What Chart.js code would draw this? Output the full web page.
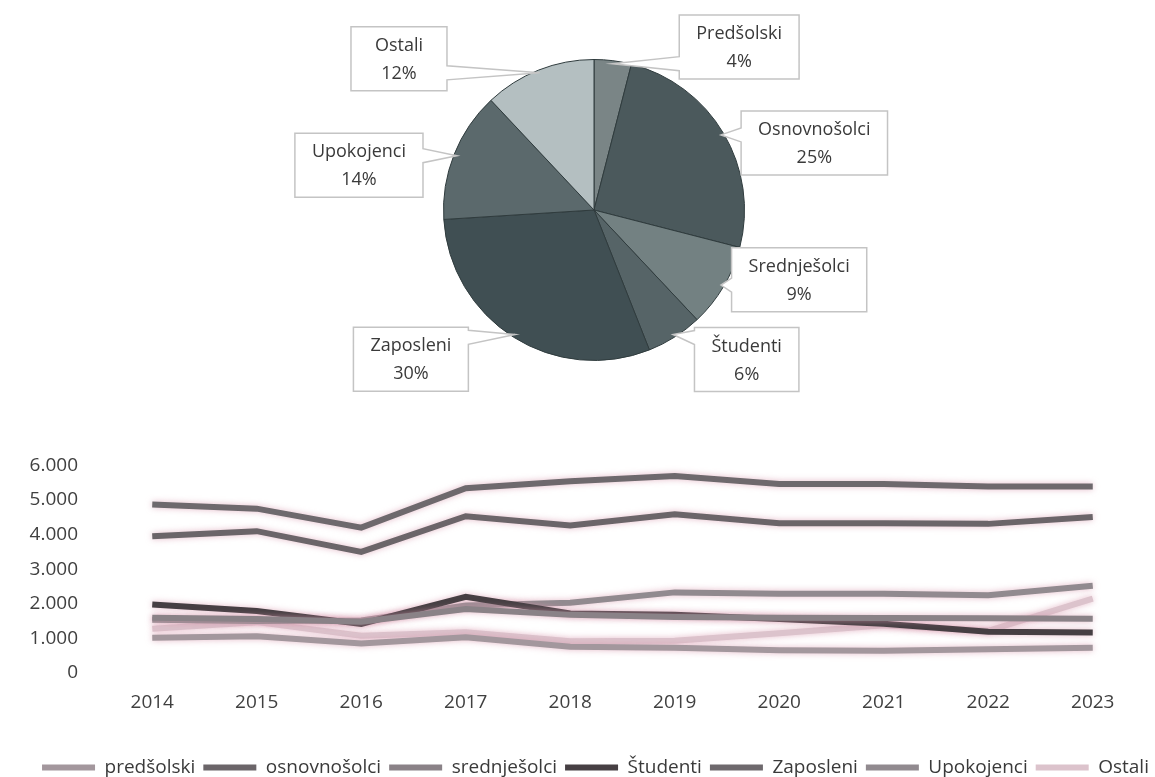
<!DOCTYPE html>
<html>
<head>
<meta charset="utf-8">
<script src="https://cdn.jsdelivr.net/npm/chart.js@4.4.1/dist/chart.umd.min.js"></script>
<style>
html, body { margin: 0; padding: 0; background: #fff; overflow: hidden; }
#wrap { position: relative; width: 1155px; height: 777px; }
#pie { position: absolute; left: 0; top: 0; }
#line { position: absolute; left: 0; top: 440px; }
</style>
</head>
<body>
<div id="wrap">
  <canvas id="pie" width="1155" height="420"></canvas>
  <canvas id="line" width="1155" height="347"></canvas>
</div>
<script>
// pie (share in %, year 2023)
const pie_labels = ["Predšolski", "Osnovnošolci", "Srednješolci", "Študenti", "Zaposleni", "Upokojenci", "Ostali"]
const pie_values = [4, 25, 9, 6, 30, 14, 12]
const pie_colors = ["#7a8586", "#4b595c", "#738182", "#566467", "#404f53", "#5b696c", "#b4bfc1"]

// where the callout boxes sit: angle (deg, clockwise from top) and distance in pie radii
const label_angle = [41.7, 73.1, 108.8, 134.4, 230.8, 280.8, 307.8]
const label_dist = [1.45, 1.53, 1.44, 1.42, 1.57, 1.59, 1.64]

// line chart
const years = ["2014", "2015", "2016", "2017", "2018", "2019", "2020", "2021", "2022", "2023"]
const predsolski   = [1020, 1060, 850, 1030, 760, 730, 660, 640, 690, 730]
const osnovnosolci = [3950, 4100, 3500, 4530, 4260, 4590, 4330, 4330, 4310, 4510]
const srednjesolci = [1600, 1560, 1480, 1850, 1680, 1620, 1600, 1590, 1580, 1570]
const studenti     = [1980, 1790, 1420, 2200, 1720, 1680, 1560, 1420, 1190, 1170]
const zaposleni    = [4870, 4750, 4200, 5340, 5540, 5690, 5460, 5460, 5390, 5390]
const upokojenci   = [1540, 1500, 1520, 1950, 2030, 2330, 2290, 2290, 2250, 2520]
const ostali       = [1280, 1470, 1080, 1180, 920, 930, 1150, 1380, 1220, 2150]

const y_ticks = [0, 1000, 2000, 3000, 4000, 5000, 6000]

const series = [
  {name: "predšolski",   data: predsolski,   color: "#a3979d"},
  {name: "osnovnošolci", data: osnovnosolci, color: "#6b6569"},
  {name: "srednješolci", data: srednjesolci, color: "#8a8287"},
  {name: "Študenti",     data: studenti,     color: "#463f43"},
  {name: "Zaposleni",    data: zaposleni,    color: "#6e696d"},
  {name: "Upokojenci",   data: upokojenci,   color: "#918a8f"},
  {name: "Ostali",       data: ostali,       color: "#dcc3cc"}
]

Chart.defaults.font.family = "'Open Sans', sans-serif"
Chart.defaults.color = "#404040"

function dot_thousands(v){
  return String(v).replace(/\B(?=(\d{3})+(?!\d))/g, ".")
}

// Excel style callouts: white box with a wedge pointing to the slice
const callouts = {
  id: "callouts",
  afterDatasetsDraw(chart){
    const ctx = chart.ctx
    const meta = chart.getDatasetMeta(0)
    const vals = chart.data.datasets[0].data
    const total = vals.reduce((a, b) => a + b, 0)
    ctx.save()
    ctx.font = "18px 'Open Sans'"
    meta.data.forEach((arc, i) => {
      const p = arc.getProps(["x", "y", "startAngle", "endAngle", "outerRadius"], true)
      const mid = (p.startAngle + p.endAngle) / 2
      const tx = p.x + Math.cos(mid) * (p.outerRadius - 3)
      const ty = p.y + Math.sin(mid) * (p.outerRadius - 3)
      const la = (label_angle[i] - 90) * Math.PI / 180
      const cx = p.x + Math.cos(la) * p.outerRadius * label_dist[i]
      const cy = p.y + Math.sin(la) * p.outerRadius * label_dist[i]
      const l1 = pie_labels[i]
      const l2 = Math.round(vals[i] / total * 100) + "%"
      const w = Math.max(Math.max(ctx.measureText(l1).width, ctx.measureText(l2).width) + 34, 96)
      const h = 64
      const bx = cx - w / 2, by = cy - h / 2
      const dx = tx - cx, dy = ty - cy
      let side
      if (Math.abs(dx) / (w / 2) > Math.abs(dy) / (h / 2)) side = dx < 0 ? "l" : "r"
      else side = dy < 0 ? "t" : "b"
      const hw = 7
      const clamp = (v, a, b) => Math.max(a, Math.min(b, v))
      const pts = [[bx, by]]
      if (side == "t"){ const c = clamp(tx, bx + 10, bx + w - 10); pts.push([c - hw, by], [tx, ty], [c + hw, by]) }
      pts.push([bx + w, by])
      if (side == "r"){ const c = clamp(ty, by + 10, by + h - 10); pts.push([bx + w, c - hw], [tx, ty], [bx + w, c + hw]) }
      pts.push([bx + w, by + h])
      if (side == "b"){ const c = clamp(tx, bx + 10, bx + w - 10); pts.push([c + hw, by + h], [tx, ty], [c - hw, by + h]) }
      pts.push([bx, by + h])
      if (side == "l"){ const c = clamp(ty, by + 10, by + h - 10); pts.push([bx, c + hw], [tx, ty], [bx, c - hw]) }
      ctx.beginPath()
      pts.forEach((q, k) => k ? ctx.lineTo(q[0], q[1]) : ctx.moveTo(q[0], q[1]))
      ctx.closePath()
      ctx.fillStyle = "#ffffff"
      ctx.fill()
      ctx.lineWidth = 1.5
      ctx.strokeStyle = "#c4c4c4"
      ctx.stroke()
      ctx.fillStyle = "#3a3a3a"
      ctx.textAlign = "center"
      ctx.textBaseline = "middle"
      ctx.fillText(l1, cx, cy - 13)
      ctx.fillText(l2, cx, cy + 15)
    })
    ctx.restore()
  }
}

// soft pinkish halo round the lines, like the scan
const halo = {
  id: "halo",
  beforeDatasetsDraw(chart){
    const c = chart.ctx
    c.save()
    c.shadowColor = "rgba(215,150,172,0.65)"
    c.shadowBlur = 6
  },
  afterDatasetsDraw(chart){
    chart.ctx.restore()
  }
}

// the legend in the reference sits a bit right of centre
const legend_shift = {
  id: "legend_shift",
  afterLayout(chart){
    chart.legend.left += 20
    chart.legend.right += 20
  }
}

const pie_chart = new Chart(document.getElementById("pie").getContext("2d"), {
  type: "pie",
  data: {
    labels: pie_labels,
    datasets: [{
      data: pie_values,
      backgroundColor: pie_colors,
      borderColor: "#2f3b3d",
      borderWidth: 1
    }]
  },
  options: {
    responsive: false,
    animation: false,
    layout: {padding: {left: 443, right: 410, top: 59, bottom: 59}},
    plugins: {legend: {display: false}, tooltip: {enabled: false}}
  },
  plugins: [callouts]
})

const line_chart = new Chart(document.getElementById("line").getContext("2d"), {
  type: "line",
  data: {
    labels: years,
    datasets: series.map(s => ({
      label: s.name,
      data: s.data,
      borderColor: s.color,
      backgroundColor: s.color,
      borderWidth: 6,
      pointRadius: 0,
      tension: 0
    }))
  },
  options: {
    responsive: false,
    animation: false,
    layout: {padding: {left: 6, right: 10, top: 12, bottom: 0}},
    scales: {
      x: {
        offset: true,
        grid: {display: false},
        border: {display: false},
        ticks: {padding: 10, font: {size: 19}, color: "#404040"},
        afterFit(s){ s.height = 77 }
      },
      y: {
        min: 0,
        max: 6000,
        afterBuildTicks(s){ s.ticks = y_ticks.map(v => ({value: v})) },
        ticks: {padding: 14, font: {size: 19}, color: "#404040", callback: v => dot_thousands(v)},
        grid: {display: false},
        border: {display: false},
        afterFit(s){ s.width = 94 }
      }
    },
    plugins: {
      legend: {
        position: "bottom",
        labels: {
          usePointStyle: true,
          pointStyle: "line",
          pointStyleWidth: 53,
          font: {size: 19},
          color: "#3a3a3a",
          padding: 8
        }
      },
      tooltip: {enabled: false}
    }
  },
  plugins: [halo, legend_shift]
})
</script>
</body>
</html>
